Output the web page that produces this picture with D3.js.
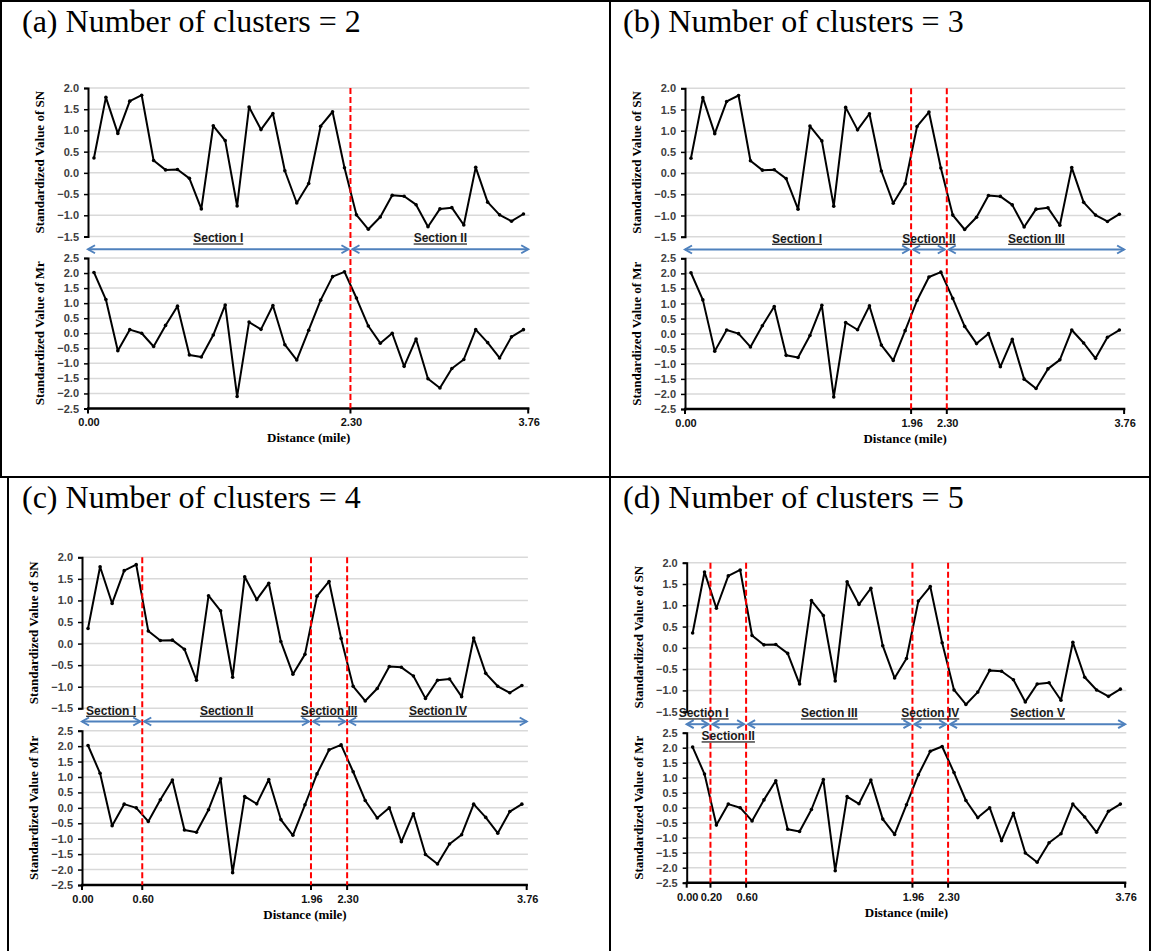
<!DOCTYPE html>
<html>
<head>
<meta charset="utf-8">
<script src="https://cdn.jsdelivr.net/npm/d3@7"></script>
<style>
  html, body { margin: 0; padding: 0; background: #fff; }
  svg { display: block; }
</style>
</head>
<body>
<svg id="fig" width="1151" height="951"></svg>
<script>
// Station distances (mile) of the 37 survey points along the route
const distances = [0.05, 0.15, 0.25, 0.40, 0.55, 0.65, 0.75, 0.85, 0.95, 1.05,
  1.15, 1.25, 1.35, 1.45, 1.55, 1.65, 1.73, 1.82, 1.91, 2.01,
  2.13, 2.25, 2.35, 2.45, 2.55, 2.65, 2.74, 2.84, 2.94, 3.04,
  3.14, 3.23, 3.33, 3.43, 3.53, 3.62, 3.72];

// Standardized skid number (SN)
const snValues = [0.35, 1.78, 0.93, 1.69, 1.83, 0.29, 0.07, 0.08, -0.13, -0.85,
  1.11, 0.76, -0.78, 1.55, 1.02, 1.40, 0.05, -0.71, -0.25, 1.10,
  1.44, 0.12, -0.99, -1.33, -1.04, -0.53, -0.55, -0.75, -1.27, -0.85,
  -0.82, -1.23, 0.13, -0.69, -0.99, -1.14, -0.97];

// Standardized resilient modulus (Mr)
const mrValues = [2.02, 1.12, -0.58, 0.12, 0.00, -0.44, 0.26, 0.90, -0.72, -0.79,
  -0.06, 0.94, -2.10, 0.37, 0.13, 0.92, -0.38, -0.89, 0.10, 1.10,
  1.88, 2.04, 1.17, 0.24, -0.33, 0.00, -1.10, -0.19, -1.51, -1.82,
  -1.17, -0.87, 0.12, -0.31, -0.82, -0.12, 0.12];

// Axis tick values
const snTicks = [2.0, 1.5, 1.0, 0.5, 0.0, -0.5, -1.0, -1.5];
const mrTicks = [2.5, 2.0, 1.5, 1.0, 0.5, 0.0, -0.5, -1.0, -1.5, -2.0, -2.5];
const routeStart = 0.00;
const routeEnd = 3.76;

// Clustering results: section boundaries for each number of clusters
const panelLetters = ["a", "b", "c", "d"];
const clusterCounts = [2, 3, 4, 5];
const sectionBreaks = [
  [2.30],
  [1.96, 2.30],
  [0.60, 1.96, 2.30],
  [0.20, 0.60, 1.96, 2.30]
];
const romanNumerals = ["I", "II", "III", "IV", "V"];

// Placement of each sub-figure on the page
const layout = [
  { left: 88,    right: 529.4,  snTop: 88,    snBot: 236.5, mrTop: 258,   mrBot: 408.5, tx: 22,  ty: 32 },
  { left: 685,   right: 1125.3, snTop: 88.3,  snBot: 236.7, mrTop: 258.3, mrBot: 409,   tx: 623, ty: 32 },
  { left: 82,    right: 527.9,  snTop: 557.3, snBot: 708.3, mrTop: 730.7, mrBot: 885,   tx: 22,  ty: 508 },
  { left: 686.7, right: 1126.3, snTop: 562.7, snBot: 711.7, mrTop: 732.7, mrBot: 882.7, tx: 623, ty: 508 }
];

const svg = d3.select("#fig");
const SANS = "'Liberation Sans', Arial, sans-serif";
const SERIF = "'Liberation Serif', 'Times New Roman', serif";
const GRID = "#d9d9d9";
const ARROW = "#4f81bd";

// Frame of the 2x2 grid
const frame = svg.append("g").attr("stroke", "#000").attr("stroke-width", 2);
[[0, 1, 1151, 1], [1, 0, 1, 477], [8, 477, 8, 951], [610, 0, 610, 951],
 [0, 477, 1151, 477], [1150, 0, 1150, 951]].forEach(([x1, y1, x2, y2]) =>
  frame.append("line").attr("x1", x1).attr("y1", y1).attr("x2", x2).attr("y2", y2));

const pointIndex = d3.range(distances.length);

panelLetters.forEach((letter, p) => {
  const L = layout[p];
  const g = svg.append("g");

  g.append("text")
    .attr("x", L.tx).attr("y", L.ty)
    .attr("font-family", SERIF).attr("font-size", 32)
    .text(`(${letter}) Number of clusters = ${clusterCounts[p]}`);

  // Category positions of the points, and a distance scale through them
  const band = d3.scalePoint().domain(pointIndex).range([L.left, L.right]).padding(0.5);
  const x = d3.scaleLinear().domain(distances).range(pointIndex.map(i => band(i)));

  const ySN = d3.scaleLinear().domain([-1.5, 2.0]).range([L.snBot, L.snTop]);
  const yMr = d3.scaleLinear().domain([-2.5, 2.5]).range([L.mrBot, L.mrTop]);

  function drawPanel(y, ticks, values, title, hasXAxis) {
    const pg = g.append("g");
    // gridlines
    pg.selectAll("line.grid").data(ticks).join("line")
      .attr("x1", L.left).attr("x2", L.right)
      .attr("y1", d => y(d)).attr("y2", d => y(d))
      .attr("stroke", GRID).attr("stroke-width", 1.5);
    // y axis
    const ax = pg.append("g").attr("transform", `translate(${L.left},0)`)
      .call(d3.axisLeft(y).tickValues(ticks).tickSize(4).tickPadding(5).tickFormat(d3.format(".1f")));
    ax.select(".domain").attr("stroke", "#000").attr("stroke-width", 2);
    ax.selectAll(".tick line").attr("stroke", "#000").attr("stroke-width", 1.5);
    ax.selectAll(".tick text")
      .attr("font-family", SANS).attr("font-size", 11).attr("font-weight", "bold")
      .attr("fill", "#404040");
    // axis title
    const [r0, r1] = y.range();
    pg.append("text")
      .attr("transform", `translate(${L.left - 47},${(r0 + r1) / 2}) rotate(-90)`)
      .attr("text-anchor", "middle").attr("dominant-baseline", "middle")
      .attr("font-family", SERIF).attr("font-size", 13).attr("font-weight", "bold")
      .text(title);
    if (hasXAxis) {
      pg.append("line")
        .attr("x1", L.left - 1).attr("x2", L.right)
        .attr("y1", y(-2.5)).attr("y2", y(-2.5))
        .attr("stroke", "#000").attr("stroke-width", 2.5);
    }
    // series line and markers
    const line = d3.line().x((d, i) => x(distances[i])).y(d => y(d));
    pg.append("path").datum(values)
      .attr("d", line).attr("fill", "none")
      .attr("stroke", "#000").attr("stroke-width", 2).attr("stroke-linejoin", "round");
    pg.selectAll("circle").data(values).join("circle")
      .attr("cx", (d, i) => x(distances[i])).attr("cy", d => y(d))
      .attr("r", 1.8).attr("fill", "#000");
  }

  drawPanel(ySN, snTicks, snValues, "Standardized Value of SN", false);
  drawPanel(yMr, mrTicks, mrValues, "Standardized Value of Mr", true);

  const breaks = sectionBreaks[p];

  // Section boundaries
  g.selectAll("line.brk").data(breaks).join("line")
    .attr("x1", d => x(d)).attr("x2", d => x(d))
    .attr("y1", L.snTop).attr("y2", L.mrBot)
    .attr("stroke", "#ff0000").attr("stroke-width", 2).attr("stroke-dasharray", "6,3");

  // Distance ticks and labels
  const xTicks = [routeStart, ...breaks, routeEnd];
  const xt = g.append("g");
  xTicks.forEach(t => {
    xt.append("line")
      .attr("x1", x(t)).attr("x2", x(t))
      .attr("y1", L.mrBot).attr("y2", L.mrBot + 5)
      .attr("stroke", "#000").attr("stroke-width", 2);
    xt.append("text")
      .attr("x", x(t) + 1).attr("y", L.mrBot + 15)
      .attr("text-anchor", "middle").attr("dominant-baseline", "middle")
      .attr("font-family", SANS).attr("font-size", 11).attr("font-weight", "bold")
      .attr("fill", "#111")
      .text(d3.format(".2f")(t));
  });
  g.append("text")
    .attr("x", (L.left + L.right) / 2).attr("y", L.mrBot + 31)
    .attr("text-anchor", "middle").attr("dominant-baseline", "middle")
    .attr("font-family", SERIF).attr("font-size", 13).attr("font-weight", "bold")
    .text("Distance (mile)");

  // Section arrows with their labels
  const arrowY = (L.snBot + L.mrTop) / 2 + 2;
  const edges = [routeStart, ...breaks, routeEnd];
  let prevRight = L.left - 8; // keep clear of the y tick labels
  for (let s = 0; s < edges.length - 1; s++) {
    const xa = x(edges[s]) + (s === 0 ? 0 : 2);
    const xb = x(edges[s + 1]) - (s === edges.length - 2 ? 0 : 2);
    g.append("line")
      .attr("x1", xa).attr("x2", xb).attr("y1", arrowY).attr("y2", arrowY)
      .attr("stroke", ARROW).attr("stroke-width", 2);
    g.append("path")
      .attr("d", `M${xa + 7},${arrowY - 4}L${xa},${arrowY}L${xa + 7},${arrowY + 4}` +
                 `M${xb - 7},${arrowY - 4}L${xb},${arrowY}L${xb - 7},${arrowY + 4}`)
      .attr("fill", "none").attr("stroke", ARROW).attr("stroke-width", 2)
      .attr("stroke-linejoin", "miter");

    let cx = (xa + xb) / 2;
    const label = g.append("text")
      .attr("text-anchor", "middle").attr("dominant-baseline", "middle")
      .attr("font-family", SANS).attr("font-size", 12).attr("font-weight", "bold")
      .attr("fill", "#1a1a1a").attr("text-decoration", "underline")
      .text(`Section ${romanNumerals[s]}`);
    const w = label.node().getComputedTextLength();
    let below = false;
    if (s === 0) {
      cx = Math.max(cx, prevRight + w / 2);
    } else {
      below = cx - w / 2 < prevRight;
    }
    label.attr("x", cx).attr("y", below ? arrowY + 13 : arrowY - 10);
    if (!below) prevRight = cx + w / 2;
  }
});
</script>
</body>
</html>
